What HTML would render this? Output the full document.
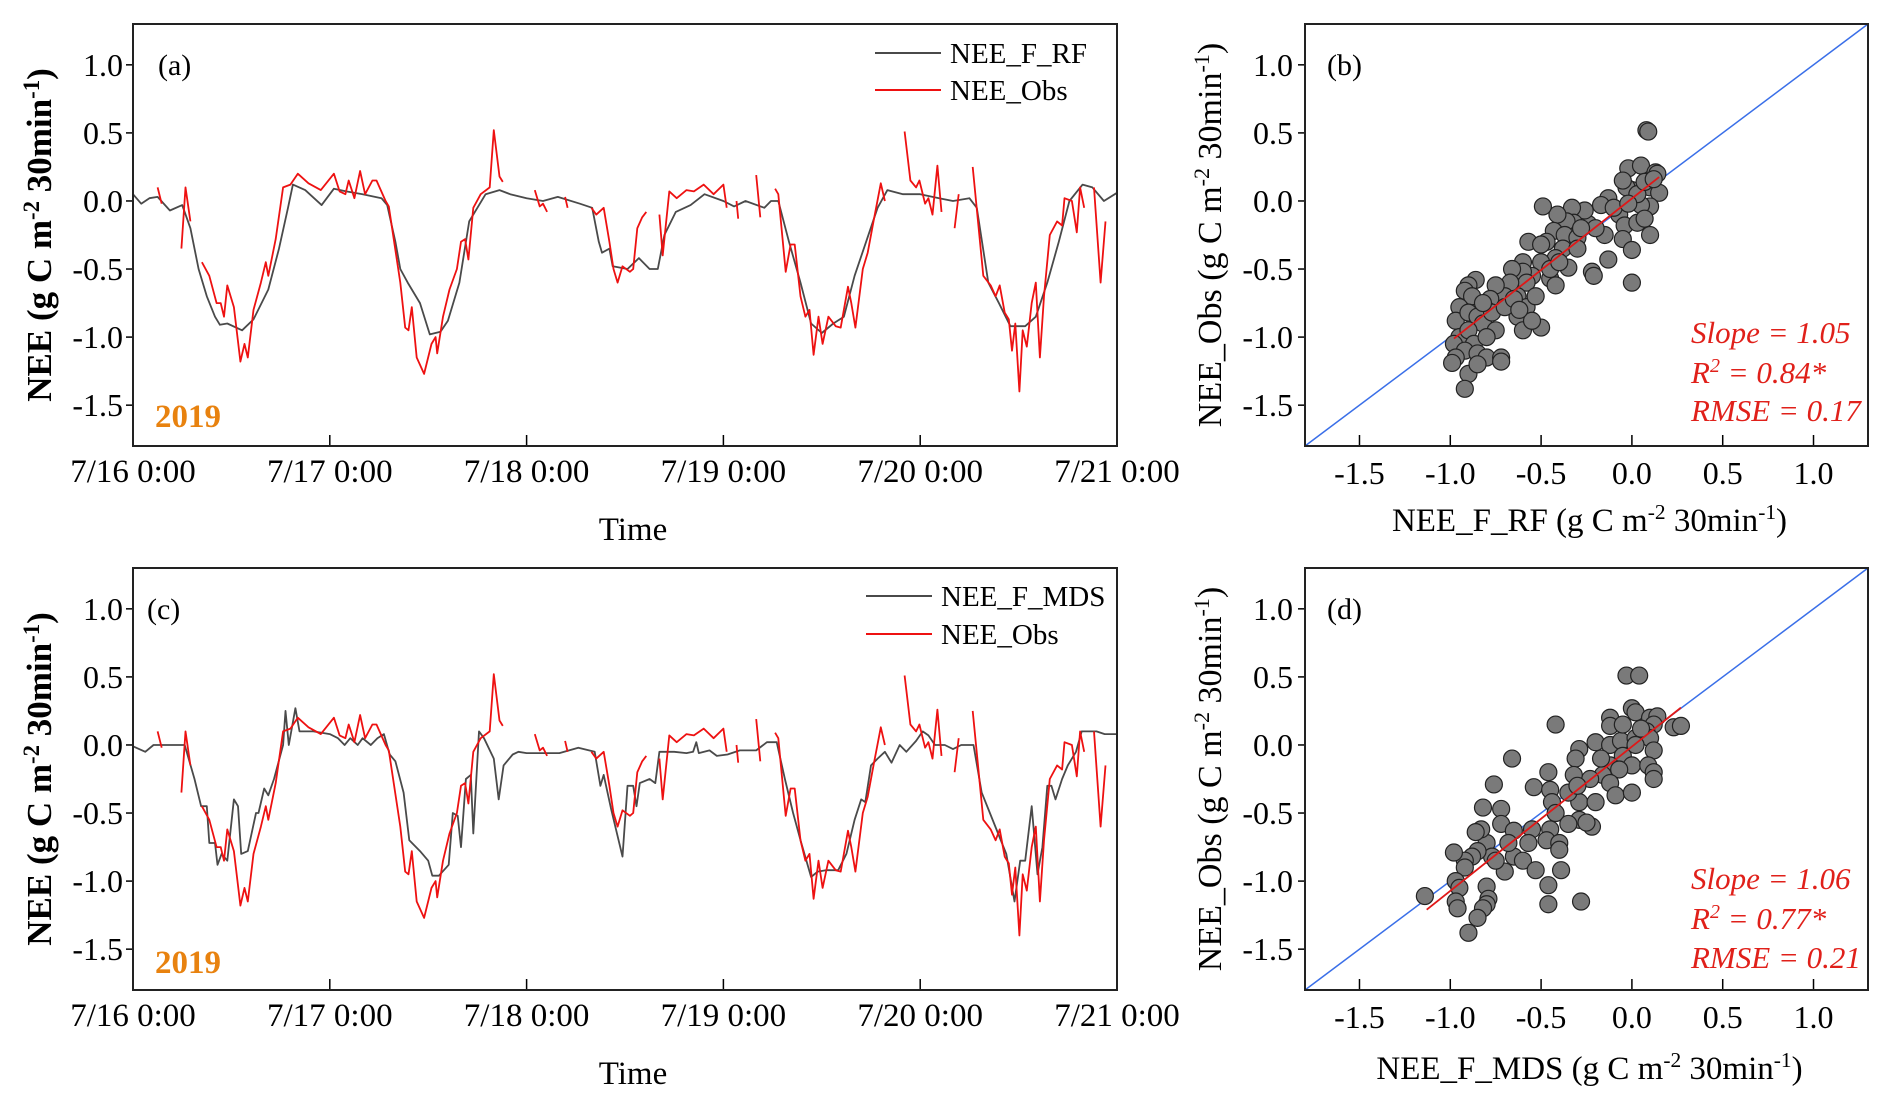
<!DOCTYPE html>
<html><head><meta charset="utf-8"><style>
html,body{margin:0;padding:0;background:#fff}
svg{display:block;font-family:"Liberation Serif",serif}
</style></head><body>
<svg id="fig" width="1892" height="1110" viewBox="0 0 1892 1110"></svg>
<script>
// ---------- time series data (hours since 7/16 0:00, NEE values) ----------
const rfT=[0,1,2,3,4.5,6,7,8,9,10,10.6,11.5,13.3,14.7,16.5,17.8,18.9,19.5,21,23,24.5,26,28,30.3,31,32,32.6,33.5,35,36.2,37.5,38.4,39.8,41,43,44.7,46,48,50,51.8,54.5,56,56.8,57.2,58.1,58.5,60.3,61.7,63,64,64.8,66.2,68,69.7,72,73.3,74.7,77,77.8,78.7,80,81.4,82.7,84,85.4,86.7,88,89.4,90.8,92,93.9,96,98.3,100,102,102.9,104.3,105.6,107,108.8,110.1,111.5,112.9,114.2,115.8,117,118.4,120];
const rfV=[0.05,-0.02,0.02,0.03,-0.07,-0.03,-0.2,-0.5,-0.7,-0.85,-0.91,-0.9,-0.95,-0.87,-0.65,-0.35,-0.05,0.12,0.08,-0.03,0.09,0.07,0.05,0.02,-0.03,-0.3,-0.5,-0.6,-0.75,-0.98,-0.96,-0.88,-0.6,-0.15,0.05,0.08,0.05,0.02,0.0,0.03,-0.02,-0.05,-0.3,-0.38,-0.35,-0.48,-0.5,-0.42,-0.5,-0.5,-0.25,-0.08,-0.03,0.05,0.0,-0.04,0.0,-0.05,0.0,0.0,-0.3,-0.6,-0.9,-0.97,-0.9,-0.85,-0.55,-0.3,-0.05,0.08,0.05,0.05,0.02,0.0,0.02,-0.05,-0.6,-0.75,-0.92,-0.92,-0.85,-0.6,-0.3,0.0,0.12,0.1,0.0,0.06];
const mdsT=[0,1.5,2.5,6.3,7.5,8.3,9,9.3,10,10.3,10.8,11.5,12.3,12.8,13.2,14,15,15.3,16,16.5,17.2,18.3,18.6,19,19.8,20.3,22,24,25,25.8,26.5,27.4,28,29,29.8,30.6,31.3,32,33,33.7,35,36,36.5,37.3,38.5,39,39.6,40,40.6,41.2,41.5,42.2,42.8,44,44.6,45.2,46.3,47,48,50,52,54.3,56.3,57,57.4,58.3,59.7,60.3,61,61.4,61.8,63,63.7,64.2,66,67.5,68.3,68.7,69,70.3,71.2,72.5,74,76,77.3,78.5,79.5,80.5,81.5,82.7,83.5,84.5,86,87,88,88.8,89.3,90,90.8,91.7,92.5,93.5,94.3,95.5,96.3,97,97.8,99,100,101,102.5,103.5,104.5,105.5,106.5,107.5,108.2,108.8,109.6,110.3,110.9,111.5,112,112.5,113.3,114,115,115.7,116.5,117.5,118.5,120];
const mdsV=[-0.01,-0.05,0.0,0.0,-0.25,-0.45,-0.45,-0.72,-0.72,-0.88,-0.8,-0.85,-0.4,-0.45,-0.8,-0.78,-0.5,-0.5,-0.32,-0.37,-0.25,0.0,0.25,0.0,0.27,0.1,0.1,0.08,0.05,0.0,0.05,0.0,0.05,0.0,0.05,0.08,-0.07,-0.12,-0.35,-0.7,-0.78,-0.85,-0.96,-0.96,-0.88,-0.5,-0.52,-0.75,-0.25,-0.22,-0.65,0.1,0.05,-0.1,-0.4,-0.15,-0.07,-0.05,-0.06,-0.06,-0.06,-0.02,-0.05,-0.3,-0.22,-0.47,-0.82,-0.3,-0.3,-0.45,-0.28,-0.25,-0.28,-0.05,-0.05,-0.06,-0.05,0.02,-0.06,-0.04,-0.08,-0.07,-0.04,-0.04,0.02,0.02,-0.25,-0.5,-0.72,-0.97,-0.93,-0.92,-0.92,-0.8,-0.55,-0.4,-0.42,-0.15,-0.1,-0.05,-0.13,0.0,-0.05,0.03,0.1,0.07,0.0,0.0,-0.03,0.0,0.0,-0.35,-0.5,-0.65,-0.8,-1.15,-0.85,-0.85,-0.45,-0.95,-0.75,-0.3,-0.3,-0.4,-0.25,-0.15,-0.05,0.1,0.1,0.1,0.08,0.08];
// observed (null = gap)
const obsT=[3,3.5,null,5.9,6.4,7,null,8.4,9.3,10.2,10.7,11.1,11.5,12.3,13.1,13.6,14,14.7,15.6,16.2,16.5,17.4,18.3,19.2,20.1,21.4,22.9,24.5,25.2,25.9,26.3,27,27.7,28.3,29.2,29.7,30.8,31.2,32.6,33.2,33.6,34,34.6,35.5,36.4,36.9,37.1,37.8,38.6,39.5,40,40.5,40.9,41.5,42.4,43.5,44,44.7,45.1,null,49,49.6,50,50.5,null,52.7,53,null,55.9,56.5,57.4,58.1,58.6,59.1,59.7,60.6,61,61.5,62.1,62.6,null,64.2,64.6,65.4,66.3,67.5,68.4,69.6,70.8,72,72.4,null,73.6,73.8,null,76,76.5,null,78.3,78.7,79.6,80.2,80.7,81.4,82,82.5,83,83.6,84.1,84.8,85.7,86.3,87.2,87.6,88.1,89,89.6,90.3,91.2,91.7,null,94.1,94.8,95.5,95.9,96.6,97,97.5,98.1,98.6,null,100.2,100.7,null,102.4,103.7,104.6,105.2,105.7,106.3,106.8,107.2,107.6,108.1,108.5,109,109.6,110.1,110.6,111.1,111.8,112.7,113.3,113.6,114.5,115.1,115.5,116,null,117.2,118,118.6];
const obsV=[0.1,-0.02,null,-0.35,0.1,-0.15,null,-0.45,-0.55,-0.75,-0.75,-0.85,-0.62,-0.78,-1.18,-1.05,-1.15,-0.8,-0.6,-0.45,-0.55,-0.28,0.1,0.12,0.2,0.13,0.08,0.2,0.07,0.05,0.15,0.02,0.22,0.05,0.15,0.15,0.0,-0.04,-0.6,-0.93,-0.95,-0.78,-1.15,-1.27,-1.05,-1.0,-1.12,-0.85,-0.65,-0.5,-0.3,-0.28,-0.43,-0.05,0.05,0.1,0.52,0.18,0.14,null,0.08,-0.04,-0.02,-0.08,null,0.03,-0.05,null,-0.05,-0.1,-0.05,-0.3,-0.5,-0.6,-0.48,-0.52,-0.5,-0.2,-0.12,-0.08,null,-0.1,-0.4,0.07,0.02,0.08,0.07,0.12,0.05,0.12,-0.05,null,0.0,-0.13,null,0.19,-0.12,null,0.09,0.05,-0.52,-0.32,-0.32,-0.7,-0.85,-0.8,-1.13,-0.85,-1.05,-0.85,-0.92,-0.93,-0.63,-0.75,-0.93,-0.5,-0.38,-0.15,0.13,0.0,null,0.51,0.15,0.1,0.15,-0.02,0.02,-0.1,0.26,-0.08,null,-0.2,0.05,null,0.25,-0.55,-0.62,-0.7,-0.62,-0.82,-0.87,-1.1,-0.9,-1.4,-0.95,-1.07,-0.75,-0.6,-1.15,-0.7,-0.25,-0.15,-0.18,0.02,0.0,-0.23,0.1,-0.05,null,0.1,-0.6,-0.15];
const dayLabels=["7/16 0:00","7/17 0:00","7/18 0:00","7/19 0:00","7/20 0:00","7/21 0:00"];
const yTicks=[1.0,0.5,0.0,-0.5,-1.0,-1.5];
const xTicksScatter=[-1.5,-1.0,-0.5,0.0,0.5,1.0];
// ---------- scatter data ----------
const rfX=[0.08,0.09,-0.02,0.05,0.13,0.14,0.1,0.15,0.1,0.05,0.0,-0.03,-0.05,-0.13,-0.17,-0.07,-0.04,0.03,0.07,0.1,-0.05,0.0,-0.15,-0.13,0.0,-0.22,-0.21,-0.24,-0.26,-0.33,-0.32,-0.36,-0.41,-0.49,-0.43,-0.37,-0.3,-0.38,-0.47,-0.57,-0.5,-0.42,-0.35,-0.45,-0.42,-0.5,-0.6,-0.55,-0.6,-0.66,-0.58,-0.63,-0.58,-0.63,-0.6,-0.5,-0.55,-0.67,-0.7,-0.75,-0.78,-0.8,-0.86,-0.9,-0.92,-0.88,-0.95,-0.97,-0.9,-0.85,-0.82,-0.95,-0.98,-0.9,-0.87,-0.92,-0.97,-0.99,-0.85,-0.8,-0.72,-0.72,-0.9,-0.92,-0.85,-0.77,-0.82,-0.7,-0.65,-0.75,-0.8,-0.45,-0.3,-0.2,-0.1,0.03,-0.4,-0.28,-0.53,-0.62,0.07,0.12,-0.02];
const rfY=[0.52,0.51,0.24,0.26,0.21,0.2,0.1,0.06,-0.04,-0.03,0.08,0.1,0.15,0.02,-0.03,-0.1,-0.18,-0.16,-0.13,-0.25,-0.28,-0.36,-0.25,-0.43,-0.6,-0.52,-0.55,-0.17,-0.07,-0.05,-0.16,-0.15,-0.1,-0.04,-0.22,-0.25,-0.27,-0.35,-0.3,-0.3,-0.32,-0.42,-0.49,-0.57,-0.62,-0.45,-0.45,-0.55,-0.52,-0.5,-0.6,-0.7,-0.78,-0.85,-0.95,-0.93,-0.88,-0.6,-0.7,-0.62,-0.72,-0.8,-0.58,-0.62,-0.66,-0.7,-0.78,-0.88,-0.82,-0.85,-0.9,-1.0,-1.05,-0.95,-1.05,-1.1,-1.15,-1.19,-1.12,-1.15,-1.15,-1.18,-1.27,-1.38,-1.2,-0.82,-0.75,-0.78,-0.72,-0.95,-1.0,-0.5,-0.35,-0.2,-0.05,0.05,-0.45,-0.2,-0.7,-0.8,0.14,0.16,-0.02];
const mdsX=[-0.03,0.04,-0.42,0.0,0.02,0.1,0.14,0.23,0.27,0.12,0.08,-0.12,-0.12,-0.2,-0.29,-0.12,-0.06,0.02,0.1,0.12,-0.05,0.0,0.09,0.12,0.12,-0.12,-0.16,-0.07,-0.23,-0.31,-0.32,-0.12,-0.09,0.0,-0.29,-0.29,-0.2,-0.22,-0.25,-0.46,-0.54,-0.45,-0.66,-0.76,-0.82,-0.72,-0.72,-0.65,-0.55,-0.44,-0.42,-0.35,-0.45,-0.47,-0.4,-0.4,-0.57,-0.65,-0.6,-0.53,-0.39,-0.46,-0.46,-0.28,-0.7,-0.8,-0.83,-0.86,-0.77,-0.85,-0.88,-0.92,-0.92,-0.98,-0.97,-0.95,-0.97,-0.96,-0.8,-0.79,-0.8,-0.82,-0.85,-0.9,-1.14,-0.75,-0.68,-0.35,-0.3,-0.05,0.05,-0.17,0.02];
const mdsY=[0.51,0.51,0.15,0.27,0.24,0.2,0.21,0.13,0.14,0.15,0.1,0.2,0.14,0.02,-0.03,0.0,0.03,0.05,0.05,-0.04,-0.08,-0.15,-0.15,-0.2,-0.25,-0.15,-0.22,-0.18,-0.25,-0.1,-0.22,-0.28,-0.37,-0.35,-0.42,-0.55,-0.42,-0.6,-0.57,-0.2,-0.31,-0.33,-0.1,-0.29,-0.46,-0.47,-0.58,-0.63,-0.62,-0.42,-0.5,-0.58,-0.62,-0.7,-0.72,-0.77,-0.72,-0.82,-0.85,-0.92,-0.92,-1.03,-1.17,-1.15,-0.93,-0.72,-0.62,-0.64,-0.82,-0.78,-0.82,-0.85,-0.9,-0.79,-1.0,-1.05,-1.15,-1.2,-1.04,-1.13,-1.17,-1.2,-1.27,-1.38,-1.11,-0.85,-0.72,-0.35,-0.3,0.15,0.12,-0.1,0.0];
const fitB=[-0.98,0.15]; const slopeB=1.05; const icptB=0.018;
const fitD=[-1.13,0.27]; const slopeD=1.06; const icptD=-0.012;

const NS="http://www.w3.org/2000/svg";
const svg=document.getElementById('fig');
function mk(tag,attrs,parent){const e=document.createElementNS(NS,tag);for(const k in attrs)e.setAttribute(k,attrs[k]);(parent||svg).appendChild(e);return e;}
function txt(s,attrs,parent){const e=mk('text',attrs,parent);e.textContent=s;return e;}
function unitLabel(parent,attrs,prefix){
  const t=mk('text',attrs,parent);
  t.appendChild(document.createTextNode(prefix+"(g C m"));
  let s=document.createElementNS(NS,'tspan');s.setAttribute('dy','-12');s.setAttribute('font-size','0.65em');s.textContent='-2';t.appendChild(s);
  s=document.createElementNS(NS,'tspan');s.setAttribute('dy','12');s.textContent=' 30min';t.appendChild(s);
  s=document.createElementNS(NS,'tspan');s.setAttribute('dy','-12');s.setAttribute('font-size','0.65em');s.textContent='-1';t.appendChild(s);
  s=document.createElementNS(NS,'tspan');s.setAttribute('dy','12');s.textContent=')';t.appendChild(s);
  return t;
}
const YMIN=-1.8,YMAX=1.3;

function tsPanel(L,R,T,B,modT,modV,modName,tag,yrY,legY){
  const g=mk('g',{});
  
  
  const xs=h=>L+(h/120)*(R-L), ys=v=>T+(YMAX-v)/(YMAX-YMIN)*(B-T);
  yTicks.forEach(v=>{
    mk('line',{x1:L-7,x2:L,y1:ys(v),y2:ys(v),stroke:'#000','stroke-width':1.5},g);
    const t=txt(v.toFixed(1),{x:L-10,y:ys(v)+11,'text-anchor':'end','font-size':32},g);
    
    
  });
  dayLabels.forEach((d,i)=>{
    const x=xs(i*24);
    if(i>0&&i<5)mk('line',{x1:x,x2:x,y1:B,y2:B-11,stroke:'#000','stroke-width':1.5},g);
    const t=txt(d,{x:x,y:B+36,'text-anchor':'middle','font-size':33},g);
    
    
  });
  function path(T_,V_){let d='',pen=false;for(let i=0;i<T_.length;i++){if(T_[i]===null||V_[i]===null){pen=false;continue;}d+=(pen?'L':'M')+xs(T_[i]).toFixed(1)+','+ys(V_[i]).toFixed(1);pen=true;}return d;}
  const m=mk('path',{d:path(modT,modV),fill:'none',stroke:'#4a4a4a','stroke-width':1.8,'stroke-linejoin':'round'},g);
  
  
  const o=mk('path',{d:path(obsT,obsV),fill:'none',stroke:'#ee1111','stroke-width':1.8,'stroke-linejoin':'round'},g);
  
  
  mk('rect',{x:L,y:T,width:R-L,height:B-T,fill:'none',stroke:'#222','stroke-width':2},g);
  const lg=mk('g',{},g);
  
  
  const lx=legY[0];
  mk('line',{x1:lx,x2:lx+66,y1:legY[1],y2:legY[1],stroke:'#4a4a4a','stroke-width':2},lg);
  txt(modName,{x:lx+75,y:legY[1]+10,'font-size':29},lg);
  mk('line',{x1:lx,x2:lx+66,y1:legY[2],y2:legY[2],stroke:'#ee1111','stroke-width':2},lg);
  txt('NEE_Obs',{x:lx+75,y:legY[2]+10,'font-size':29},lg);
  const pl=txt('('+tag+')',{x:L+(tag==='a'?25:14),y:ys(1.0)+10,'font-size':30},g);
  
  
  const yr=txt('2019',{x:L+22,y:yrY,'font-size':33,'font-weight':'bold',fill:'#e8820f'},g);
  
  
  const yl=unitLabel(g,{transform:`translate(51,${(T+B)/2}) rotate(-90)`,'text-anchor':'middle','font-size':35,'font-weight':'bold'},'NEE ');
  
  
  const xt=txt('Time',{x:(L+R)/2+8,y:B+94,'text-anchor':'middle','font-size':33},g);
  
  
}

function scPanel(L,R,T,B,X,Y,fit,sl,ic,tag,xname,stats,statY){
  const g=mk('g',{});
  
  
  const xs=v=>L+(v-YMIN)/(YMAX-YMIN)*(R-L), ys=v=>T+(YMAX-v)/(YMAX-YMIN)*(B-T);
  yTicks.forEach(v=>{
    mk('line',{x1:L-7,x2:L,y1:ys(v),y2:ys(v),stroke:'#000','stroke-width':1.5},g);
    const t=txt(v.toFixed(1),{x:L-12,y:ys(v)+11,'text-anchor':'end','font-size':32},g);
    
    
  });
  xTicksScatter.forEach(v=>{
    mk('line',{x1:xs(v),x2:xs(v),y1:B,y2:B-11,stroke:'#000','stroke-width':1.5},g);
    const t=txt(v.toFixed(1),{x:xs(v),y:B+38,'text-anchor':'middle','font-size':32},g);
    
    
  });
  const one=mk('line',{x1:xs(YMIN),y1:ys(YMIN),x2:xs(YMAX),y2:ys(YMAX),stroke:'#3a6fe8','stroke-width':1.5},g);
  
  
  for(let i=0;i<X.length;i++){
    const c=mk('circle',{cx:xs(X[i]),cy:ys(Y[i]),r:8.5,fill:'#7a7a7a',stroke:'#222','stroke-width':1.2},g);
    
    
  }
  const f=mk('line',{x1:xs(fit[0]),y1:ys(sl*fit[0]+ic),x2:xs(fit[1]),y2:ys(sl*fit[1]+ic),stroke:'#e01818','stroke-width':1.8},g);
  
  
  mk('rect',{x:L,y:T,width:R-L,height:B-T,fill:'none',stroke:'#222','stroke-width':2},g);
  const pl=txt('('+tag+')',{x:L+22,y:ys(1.0)+10,'font-size':30},g);
  
  
  const st=mk('g',{},g);
  
  
  txt('Slope = '+stats[0],{x:1691,y:statY[0]+11,'font-size':31,'font-style':'italic',fill:'#e0201a'},st);
  const r2=mk('text',{x:1691,y:statY[1]+11,'font-size':31,'font-style':'italic',fill:'#e0201a'},st);
  r2.appendChild(document.createTextNode('R'));
  let s=document.createElementNS(NS,'tspan');s.setAttribute('dy','-11');s.setAttribute('font-size','20');s.textContent='2';r2.appendChild(s);
  s=document.createElementNS(NS,'tspan');s.setAttribute('dy','11');s.textContent=' = '+stats[1]+'*';r2.appendChild(s);
  txt('RMSE = '+stats[2],{x:1691,y:statY[2]+11,'font-size':31,'font-style':'italic',fill:'#e0201a'},st);
  const yl=unitLabel(g,{transform:`translate(1221,${(T+B)/2}) rotate(-90)`,'text-anchor':'middle','font-size':34},'NEE_Obs  ');
  
  
  const xl=unitLabel(g,{x:(L+R)/2+3,y:B+(tag==='b'?85:89),'text-anchor':'middle','font-size':33},xname);
  
  
}

tsPanel(133,1117,24,446,rfT,rfV,'NEE_F_RF','a',427,[875,53,90]);
tsPanel(133,1117,568,990,mdsT,mdsV,'NEE_F_MDS','c',973,[866,596,634]);
scPanel(1305,1868,24,446,rfX,rfY,fitB,slopeB,icptB,'b','NEE_F_RF  ',['1.05','0.84','0.17'],[332,372,410]);
scPanel(1305,1868,568,990,mdsX,mdsY,fitD,slopeD,icptD,'d','NEE_F_MDS ',['1.06','0.77','0.21'],[878,918,957]);
</script>
</body></html>
